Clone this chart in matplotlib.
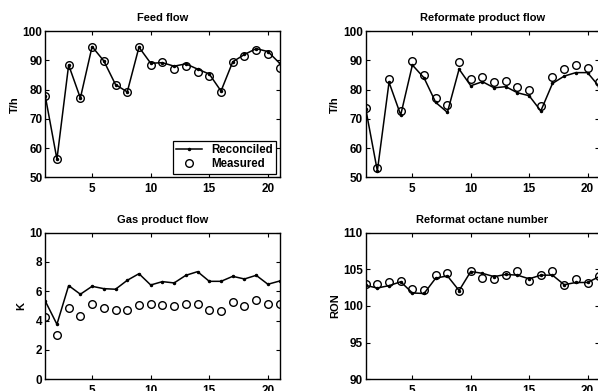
import numpy as np
import matplotlib
matplotlib.use("Agg")
from matplotlib import pyplot as plt

plt.rcParams['font.family'] = ['Liberation Sans', 'DejaVu Sans']
plt.rcParams['font.weight'] = 'bold'

#------------------------------------------------------------
# data
t = np.arange(1, 22)

feed_meas = [77.9, 56.2, 88.4, 77.1, 94.7, 89.8, 81.7, 79.2, 94.5, 88.3, 89.3,
             87.2, 87.9, 86.0, 84.5, 79.2, 89.3, 91.6, 93.5, 92.3, 87.4]
feed_rec = [77.9, 56.2, 88.4, 77.1, 94.7, 89.8, 81.7, 79.2, 94.5, 89.0, 89.2,
            88.0, 88.8, 87.0, 85.3, 79.5, 89.5, 92.0, 94.0, 93.0, 89.0]

ref_meas = [73.8, 53.1, 83.7, 72.8, 89.7, 85.1, 77.1, 74.6, 89.5, 83.5, 84.4,
            82.5, 82.9, 81.0, 79.8, 74.5, 84.4, 86.9, 88.3, 87.4, 82.6]
ref_rec = [73.5, 52.2, 82.5, 71.3, 88.4, 84.0, 75.6, 72.2, 87.0, 81.3, 82.7,
           80.6, 81.0, 78.9, 77.9, 72.7, 82.1, 84.6, 85.8, 85.8, 81.0]

gas_meas = [4.27, 3.04, 4.89, 4.34, 5.14, 4.84, 4.70, 4.70, 5.07, 5.14, 5.07,
            5.02, 5.11, 5.16, 4.70, 4.64, 5.30, 5.00, 5.39, 5.16, 5.14]
gas_rec = [5.34, 3.75, 6.39, 5.80, 6.34, 6.18, 6.14, 6.75, 7.20, 6.43, 6.66,
           6.57, 7.09, 7.34, 6.68, 6.68, 7.02, 6.84, 7.09, 6.48, 6.70]

ron_meas = [103.0, 103.0, 103.3, 103.45, 102.36, 102.2, 104.2, 104.45, 102.1,
            104.8, 103.86, 103.7, 104.2, 104.77, 103.4, 104.2, 104.77, 102.8,
            103.7, 103.1, 104.1]
ron_rec = [102.8, 102.45, 102.77, 103.3, 101.77, 101.7, 103.8, 104.1, 102.1,
           104.7, 104.45, 104.0, 104.3, 104.2, 103.7, 104.2, 104.2, 102.9,
           103.2, 103.2, 104.0]

panels = [
    ("Feed flow", "T/h", feed_rec, feed_meas, (50, 100), np.arange(50, 101, 10)),
    ("Reformate product flow", "T/h", ref_rec, ref_meas, (50, 100), np.arange(50, 101, 10)),
    ("Gas product flow", "K", gas_rec, gas_meas, (0, 10), np.arange(0, 11, 2)),
    ("Reformat octane number", "RON", ron_rec, ron_meas, (90, 110), np.arange(90, 111, 5)),
]

positions = [
    [0.0756, 0.5465, 0.392, 0.374],
    [0.6115, 0.5465, 0.3905, 0.374],
    [0.0756, 0.0300, 0.392, 0.375],
    [0.6115, 0.0300, 0.3905, 0.375],
]

#------------------------------------------------------------
fig = plt.figure(figsize=(5.98, 3.91), dpi=100)

for i, (title, ylab, rec, meas, ylim, yticks) in enumerate(panels):
    ax = fig.add_axes(positions[i])
    ax.plot(t, rec, '-k', marker='.', ms=3, lw=1.1, label='Reconciled')
    ax.plot(t, meas, 'o', mfc='none', mec='k', ms=5.5, mew=1.0, label='Measured')

    ax.set_xlim(1, 21)
    ax.set_ylim(*ylim)
    ax.set_xticks([5, 10, 15, 20])
    ax.set_yticks(yticks)
    ax.tick_params(direction='in', length=3, width=0.8, top=True, right=True,
                   labelsize=8.5)
    ax.tick_params(axis='y', pad=2)
    ax.tick_params(axis='x', pad=4)
    for s in ax.spines.values():
        s.set_linewidth(1.0)

    ax.set_title(title, fontsize=8, fontweight='bold', pad=7)
    ax.set_ylabel(ylab, fontsize=8, fontweight='bold', labelpad=2)

    if i == 0:
        leg = ax.legend(loc='lower right', fontsize=8.3, fancybox=False,
                        edgecolor='k', framealpha=1, borderaxespad=0.3,
                        handlelength=2.2, borderpad=0.3, labelspacing=0.2)
        leg.get_frame().set_linewidth(0.9)

fig.savefig("out.png", dpi=100)
